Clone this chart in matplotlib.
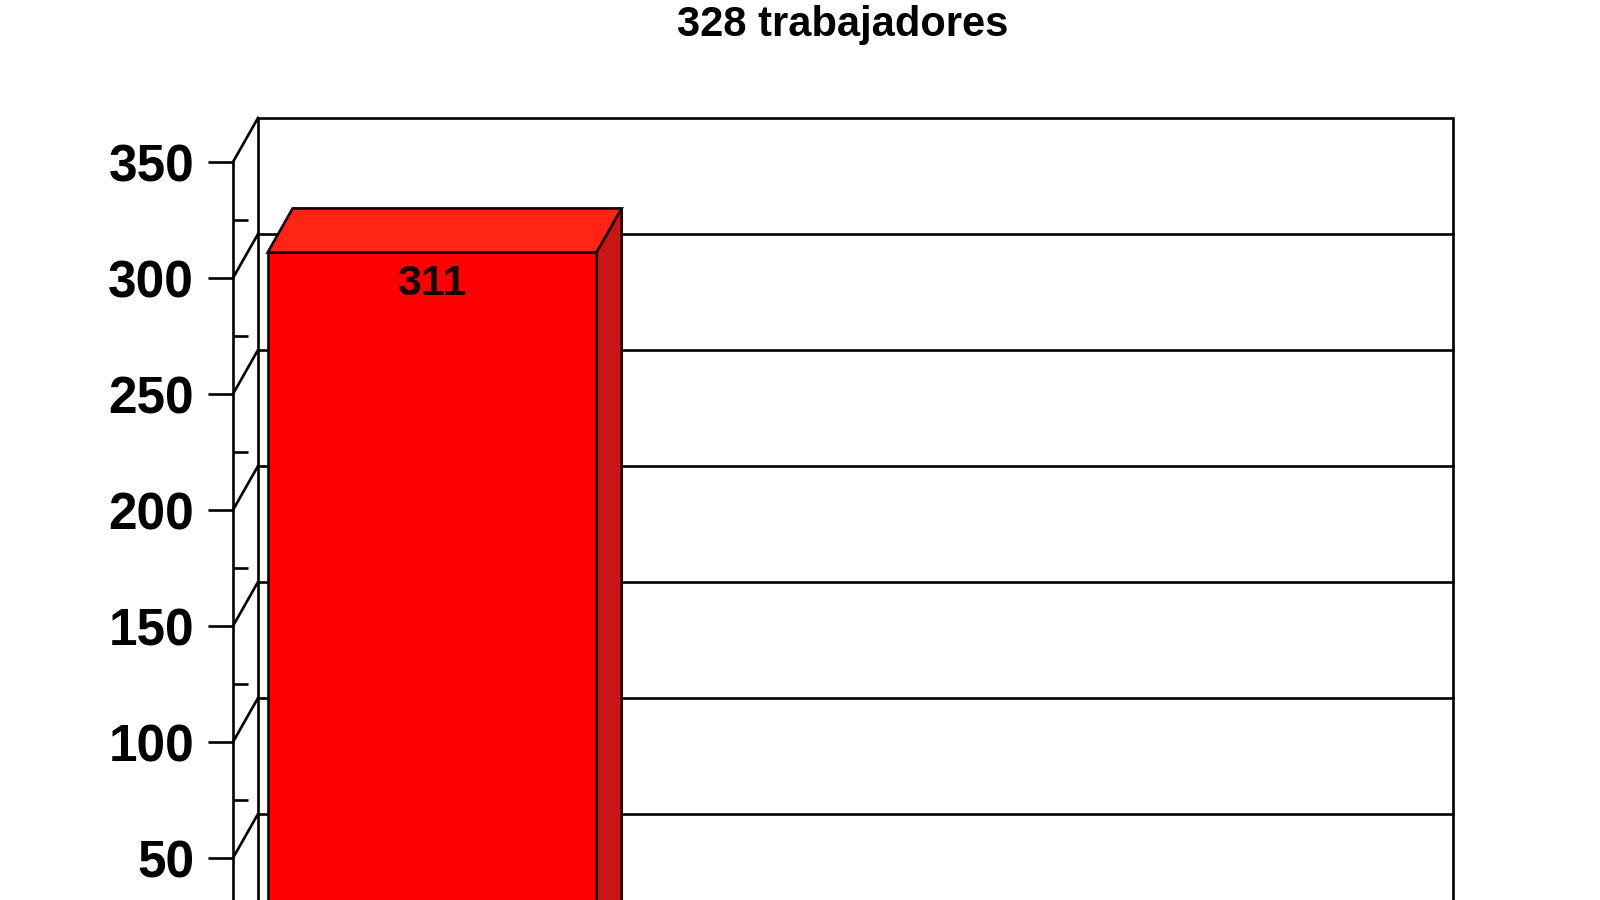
import matplotlib
matplotlib.use("Agg")
import matplotlib.pyplot as plt
from matplotlib.patches import Polygon, Rectangle

# data
title = "328 trabajadores"
positions = [0]
values = [311]
yticks = [50, 100, 150, 200, 250, 300, 350]   # 0 falls below the picture
minor_ticks = [25, 75, 125, 175, 225, 275, 325]

plt.rcParams['font.family'] = ['Liberation Sans', 'DejaVu Sans']
plt.rcParams['font.weight'] = 'bold'

fig = plt.figure(figsize=(16, 9), dpi=100)
# the plot runs off the bottom of the picture, like the original
ax = fig.add_axes([233 / 1600, -74 / 900, 1195 / 1600, 812 / 900])
ax.patch.set_visible(False)
ax.set_xlim(-0.5, 2.5)
ax.set_ylim(0, 350)

# depth of the fake 3d, in data units
dx, dy = 0.0628, 19.0
edge = '#1e0000'
lw = 1.9
x0, x1 = ax.get_xlim()
ytop = yticks[-1]

# back wall and its gridlines
ax.add_patch(Rectangle((x0 + dx, dy), x1 - x0, ytop, fill=False, ec='black',
                       lw=lw, clip_on=False, zorder=1))
for v in yticks[:-1]:
    ax.plot([x0 + dx, x1 + dx], [v + dy, v + dy], color='black', lw=lw,
            clip_on=False, zorder=1)
# side wall diagonals
for v in [0] + yticks:
    ax.plot([x0, x0 + dx], [v, v + dy], color='black', lw=lw,
            clip_on=False, zorder=1)

# bars
w = 0.826
ax.bar(positions, values, width=w, color='#ff0000', edgecolor=edge,
       lw=lw, zorder=3)
for p, v in zip(positions, values):
    l, r = p - w / 2, p + w / 2
    ax.add_patch(Polygon([(l, v), (r, v), (r + dx, v + dy), (l + dx, v + dy)],
                         closed=True, fc='#ff2414', ec=edge, lw=lw,
                         clip_on=False, zorder=3))
    ax.add_patch(Polygon([(r, 0), (r, v), (r + dx, v + dy), (r + dx, dy)],
                         closed=True, fc='#c81616', ec=edge, lw=lw,
                         clip_on=False, zorder=3))
    ax.annotate(str(v), (p, v), xytext=(0, -23), textcoords='offset points',
                ha='center', va='center', fontsize=31, fontweight='bold',
                color='#1a0000', zorder=4)

# axis
for s in ['top', 'right', 'bottom']:
    ax.spines[s].set_visible(False)
ax.spines['left'].set_linewidth(lw)
ax.spines['left'].set_zorder(2)
ax.set_xticks([])
ax.set_yticks(yticks)
ax.set_yticks(minor_ticks, minor=True)
ax.tick_params(axis='y', which='major', direction='out', length=18,
               width=lw, pad=10, labelsize=37)
ax.tick_params(axis='y', which='minor', direction='in', length=11, width=lw)

fig.text(843 / 1600, 1 - 25 / 900, title, ha='center', va='center',
         fontsize=30, fontweight='bold')

fig.savefig('out.png', dpi=100)
